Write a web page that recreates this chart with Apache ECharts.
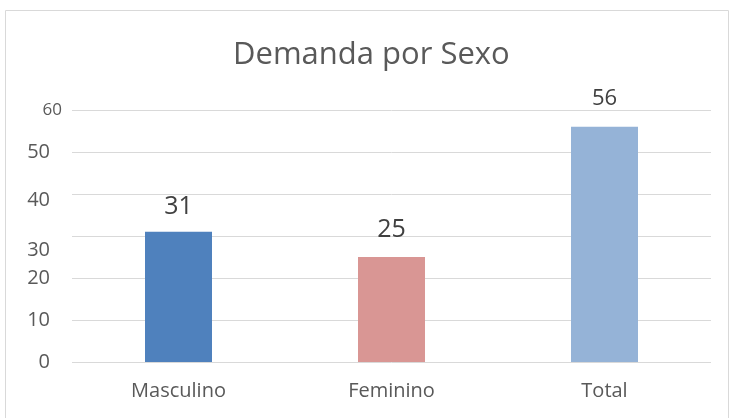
<!DOCTYPE html>
<html>
<head>
<meta charset="utf-8">
<style>
  html, body { margin: 0; padding: 0; background: #fff; }
  #chart-container { width: 731px; height: 418px; }
</style>
<script src="https://cdn.jsdelivr.net/npm/echarts@6/dist/echarts.min.js"></script>
</head>
<body>
<div id="chart-container"></div>
<script>
// data
var categories = ['Masculino', 'Feminino', 'Total'];
var values = [31, 25, 56];
var barColors = ['#4f81bd', '#d99694', '#95b3d7'];
var labelSizes = [25, 25, 22];
var labelGaps = [12, 15, 17];
var yTicks = [0, 10, 20, 30, 40, 50, 60];

var dom = document.getElementById('chart-container');
var myChart = echarts.init(dom, null, { renderer: 'canvas' });

var barData = values.map(function (v, i) {
  return {
    value: v,
    itemStyle: { color: barColors[i] },
    label: { fontSize: labelSizes[i], distance: labelGaps[i] }
  };
});

var yMin = yTicks[0];
var yMax = yTicks[yTicks.length - 1];

// the tick labels in the source are a bit out of place, so a few
// label-only axes carry the odd ones
function labelAxis(only, offset, label) {
  return {
    type: 'value',
    position: 'left',
    offset: offset,
    min: yMin,
    max: yMax,
    interval: 10,
    axisLine: { show: false },
    axisTick: { show: false },
    splitLine: { show: false },
    axisLabel: Object.assign({
      color: '#595959',
      margin: 10,
      formatter: function (v) { return only.indexOf(v) >= 0 ? String(v) : ''; }
    }, label)
  };
}

var yAxes = [
  labelAxis([60], 0, { fontSize: 17 }),
  labelAxis([0, 10, 20, 50], 12, { fontSize: 20 }),
  labelAxis([40], 12, { fontSize: 20, verticalAlign: 'top', lineHeight: 12 }),
  labelAxis([30], 12, { fontSize: 20, verticalAlign: 'top', lineHeight: 28 })
];
yAxes[0].splitLine = { show: true, lineStyle: { color: '#d9d9d9', width: 1 } };

var option = {
  animation: false,
  textStyle: { fontFamily: 'Open Sans' },
  graphic: [{
    type: 'rect',
    shape: { x: 5.5, y: 10.5, width: 723, height: 420 },
    style: { fill: 'none', stroke: '#d9d9d9', lineWidth: 1 },
    silent: true
  }],
  title: {
    text: 'Demanda por Sexo',
    left: 228,
    top: 35,
    textStyle: { fontSize: 31, fontWeight: 'normal', color: '#595959', fontFamily: 'Open Sans' }
  },
  grid: { left: 72, right: 20, top: 110, bottom: 56 },
  xAxis: {
    type: 'category',
    data: categories,
    axisLine: { show: false },
    axisTick: { show: false },
    axisLabel: { fontSize: 20, color: '#595959', margin: 19 }
  },
  yAxis: yAxes,
  series: [{
    type: 'bar',
    yAxisIndex: 0,
    data: barData,
    barWidth: 67,
    label: { show: true, position: 'top', color: '#404040' }
  }]
};

myChart.setOption(option);
window.addEventListener('resize', myChart.resize);
</script>
</body>
</html>
